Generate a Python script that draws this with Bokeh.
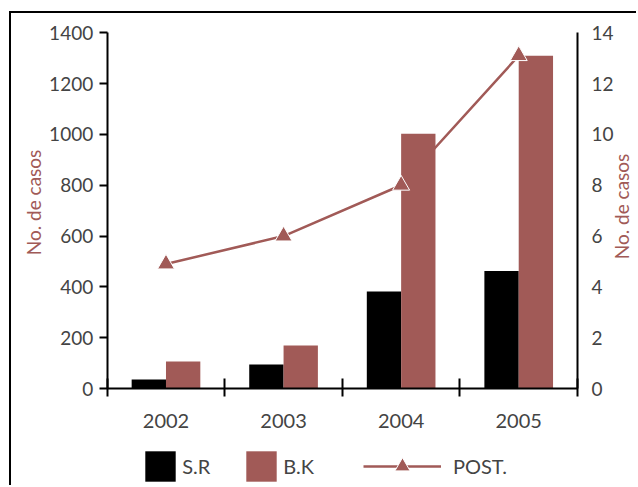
import math
from bokeh.plotting import figure
from bokeh.models import (Range1d, LinearAxis, FixedTicker, Legend, LegendItem,
                          ColumnDataSource, Label)
from bokeh.transform import dodge
from bokeh.embed import file_html
from bokeh.resources import INLINE

# Data
years = ["2002", "2003", "2004", "2005"]
sr_cases = [35, 94, 382, 462]
bk_cases = [106, 169, 1003, 1310]
post_cases = [4.9, 6.0, 8.0, 13.1]
left_ticks = [0, 200, 400, 600, 800, 1000, 1200, 1400]
right_ticks = [0, 2, 4, 6, 8, 10, 12, 14]

BROWN = "#A15A57"
FONT = "Lato"
Y_TITLE = "No. de casos"

# Plot geometry (pixels). The frame fills the whole figure and the axes are
# pinned at data locations, so titles and legend can be placed freely.
W, H = 627, 474
AX_L, AX_R = 95.7, 566.0          # x pixel of the left / right axes
AX_T, AX_B = 19.3, 375.0          # y pixel of 1400 and 0
n = len(years)
ppx = (AX_R - AX_L) / n
ppy = (AX_B - AX_T) / 1400
x_lo, x_hi = -AX_L / ppx, n + (W - AX_R) / ppx
y_lo, y_hi = -(H - AX_B) / ppy, 1400 + AX_T / ppy

x_centers = [i + 0.5 for i in range(n)]
src = ColumnDataSource(dict(x=x_centers, year=years, sr=sr_cases,
                            bk=bk_cases, post=post_cases))

p = figure(width=W, height=H, x_range=Range1d(x_lo, x_hi),
           y_range=Range1d(y_lo, y_hi), output_backend="svg",
           toolbar_location=None, min_border=0,
           x_axis_location=None, y_axis_location=None)
p.margin = (11, 0, 0, 9)
p.styles = {"border-left": "2px solid black", "border-top": "2px solid black"}
p.outline_line_color = None
p.xgrid.visible = False
p.ygrid.visible = False
p.extra_y_ranges = {"post": Range1d(y_lo / 100, y_hi / 100)}

bw = 0.292
# line sits beneath the bars, markers on top
ln = p.line("x", "post", source=src, y_range_name="post",
            line_color=BROWN, line_width=2.5)
r_sr = p.vbar(x=dodge("x", -bw / 2, range=p.x_range), top="sr", width=bw,
              source=src, fill_color="black", line_color=None)
r_bk = p.vbar(x=dodge("x", bw / 2, range=p.x_range), top="bk", width=bw,
              source=src, fill_color=BROWN, line_color=None)
mk = p.scatter("x", "post", source=src, y_range_name="post", marker="triangle",
               size=17, fill_color=BROWN, line_color="white", line_width=1)

# left axis
ya = LinearAxis(fixed_location=0, ticker=FixedTicker(ticks=left_ticks),
                bounds=(0, 1400))
ya.major_tick_in = 0
ya.major_tick_out = 8
ya.major_tick_line_width = 2
ya.minor_tick_line_color = None
ya.axis_line_width = 2
ya.major_label_text_font = FONT
ya.major_label_text_font_size = "19px"
ya.major_label_standoff = 6
p.add_layout(ya, "left")

# right axis
ra = LinearAxis(y_range_name="post", fixed_location=n,
                ticker=FixedTicker(ticks=right_ticks), bounds=(0, 14))
ra.major_tick_in = 0
ra.major_tick_out = 0
ra.minor_tick_line_color = None
ra.axis_line_width = 2
ra.major_label_text_font = FONT
ra.major_label_text_font_size = "19px"
ra.major_label_standoff = 14
p.add_layout(ra, "right")

# category axis at y = 0: ticks on group boundaries, labels on group centres
xa = LinearAxis(fixed_location=0, bounds=(0, n),
                ticker=FixedTicker(ticks=x_centers,
                                   minor_ticks=list(range(n + 1))))
xa.major_label_overrides = {c: y for c, y in zip(x_centers, years)}
xa.major_tick_in = 0
xa.major_tick_out = 0
xa.minor_tick_in = 10
xa.minor_tick_out = 8
xa.minor_tick_line_width = 2
xa.axis_line_width = 2
xa.major_label_text_font = FONT
xa.major_label_text_font_size = "20px"
xa.major_label_standoff = 17
p.add_layout(xa, "below")

# axis titles
for tx, ty in ((21.5, H - 189), (610.0, H - 193)):
    p.add_layout(Label(x=tx, y=ty, x_units="screen", y_units="screen",
                       text=Y_TITLE, angle=math.pi / 2, text_align="center",
                       text_baseline="middle", text_font=FONT,
                       text_font_size="19px", text_color=BROWN))


def make_legend(label, renderers, x, gw, standoff):
    lg = Legend(items=[LegendItem(label=label, renderers=renderers)],
                location=(x, 2), orientation="horizontal",
                glyph_width=gw, glyph_height=38, label_height=38,
                label_standoff=standoff,
                label_text_font=FONT, label_text_font_size="20px",
                padding=0, margin=0, spacing=0,
                border_line_color=None, background_fill_alpha=0)
    p.add_layout(lg, "center")


make_legend("S.R", [r_sr], 130.2, 38, 3)
make_legend("B.K", [r_bk], 231.2, 38, 3)
make_legend("POST.", [ln, mk], 352.0, 78, 12)

open("out.html", "w").write(file_html(p, INLINE))
